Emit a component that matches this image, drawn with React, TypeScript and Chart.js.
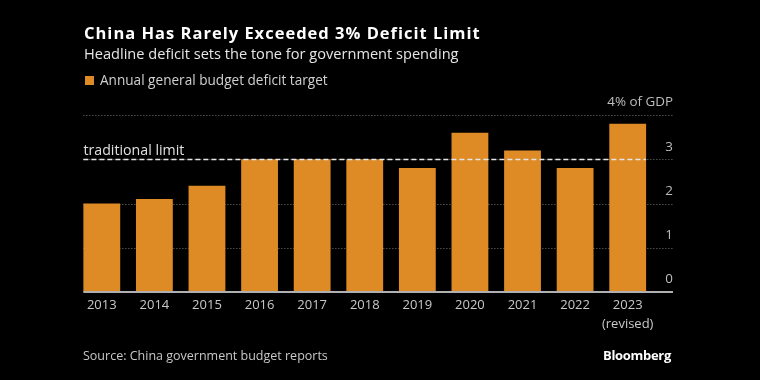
import React, { useEffect, useRef } from "react";
import { Chart, registerables } from "chart.js";

Chart.register(...registerables);

const categories = ["2013", "2014", "2015", "2016", "2017", "2018", "2019", "2020", "2021", "2022", "2023"];
const categoryNotes = ["", "", "", "", "", "", "", "", "", "", "(revised)"];
const deficitTarget = [2.0, 2.1, 2.4, 3.0, 3.0, 3.0, 2.8, 3.6, 3.2, 2.8, 3.8];
const yTickValues = [0, 1, 2, 3, 4];
const yTickLabels = ["0", "1", "2", "3", "4% of GDP"];
const limitValue = 3;
const limitLabel = "traditional limit";

const FONT = "'Open Sans', 'Noto Sans', sans-serif";
const BAR_COLOR = "#DE8B26";

const overlayPlugin = {
  id: "bbgOverlay",
  beforeDatasetsDraw(chart: any) {
    const { ctx, chartArea, scales } = chart;
    const y = scales.y;
    const meta = chart.getDatasetMeta(0);
    const first = meta.data[0];
    const left = first.x - first.width / 2;
    const right = chartArea.right + 19;
    ctx.save();
    ctx.strokeStyle = "#777777";
    ctx.lineWidth = 1;
    ctx.setLineDash([1, 2]);
    yTickValues.forEach((v) => {
      if (v === 0) return;
      const py = Math.round(y.getPixelForValue(v)) + 0.5;
      ctx.beginPath();
      ctx.moveTo(left, py);
      ctx.lineTo(right, py);
      ctx.stroke();
    });
    ctx.restore();
  },
  afterDatasetsDraw(chart: any) {
    const { ctx, chartArea, scales } = chart;
    const y = scales.y;
    const meta = chart.getDatasetMeta(0);
    const first = meta.data[0];
    const last = meta.data[meta.data.length - 1];
    const left = first.x - first.width / 2;
    const lastRight = last.x + last.width / 2;
    const right = chartArea.right + 19;
    ctx.save();
    const by = y.getPixelForValue(0);
    ctx.strokeStyle = "#b0b0b0";
    ctx.lineWidth = 2;
    ctx.setLineDash([]);
    ctx.beginPath();
    ctx.moveTo(left, by);
    ctx.lineTo(right, by);
    ctx.stroke();
    const ly = Math.round(y.getPixelForValue(limitValue)) + 0.5;
    ctx.strokeStyle = "#e6e6e6";
    ctx.lineWidth = 1.5;
    ctx.setLineDash([5, 3]);
    ctx.beginPath();
    ctx.moveTo(left, ly);
    ctx.lineTo(lastRight, ly);
    ctx.stroke();
    ctx.setLineDash([]);
    ctx.fillStyle = "#e0e0e0";
    ctx.font = `14.2px ${FONT}`;
    ctx.textAlign = "left";
    ctx.textBaseline = "alphabetic";
    ctx.fillText(limitLabel, left, ly - 5);
    ctx.fillStyle = "#bdbdbd";
    ctx.font = `13.4px ${FONT}`;
    ctx.textAlign = "right";
    ctx.textBaseline = "middle";
    yTickValues.forEach((v, i) => {
      const py = y.getPixelForValue(v) - 12.5;
      ctx.fillText(yTickLabels[i], right, py);
    });
    ctx.restore();
  },
};

export default function App() {
  const canvasRef = useRef<HTMLCanvasElement | null>(null);

  useEffect(() => {
    document.body.style.margin = "0";
    document.body.style.background = "#000";
    const canvas = canvasRef.current;
    if (!canvas) return;
    const labels = categories.map((c, i) => (categoryNotes[i] ? [c, categoryNotes[i]] : c));
    const chart = new Chart(canvas, {
      type: "bar",
      data: {
        labels,
        datasets: [
          {
            label: "Annual general budget deficit target",
            data: deficitTarget,
            backgroundColor: BAR_COLOR,
            borderWidth: 0,
            barPercentage: 0.7,
            categoryPercentage: 1.0,
          },
        ],
      },
      options: {
        animation: false,
        responsive: false,
        maintainAspectRatio: false,
        layout: { padding: { left: 75.5, right: 106, top: 115, bottom: 0 } },
        plugins: {
          legend: { display: false },
          tooltip: { enabled: false },
          title: { display: false },
        },
        scales: {
          x: {
            offset: true,
            grid: { display: false, drawTicks: false },
            border: { display: false },
            ticks: {
              color: "#c8c8c8",
              padding: 4,
              maxRotation: 0,
              autoSkip: false,
              font: { family: FONT, size: 13, lineHeight: 1.45 },
            },
            afterFit(scale: any) {
              scale.height = 88;
            },
          },
          y: {
            display: false,
            min: 0,
            max: 4,
          },
        },
      },
      plugins: [overlayPlugin],
    });
    return () => chart.destroy();
  }, []);

  const base: React.CSSProperties = {
    position: "absolute",
    fontFamily: FONT,
    whiteSpace: "nowrap",
    margin: 0,
  };

  return (
    <div style={{ position: "absolute", left: 0, top: 0, width: 760, height: 380, background: "#000", overflow: "hidden" }}>
      <canvas ref={canvasRef} width={760} height={380} style={{ position: "absolute", left: 0, top: 0, width: 760, height: 380 }} />
      <div style={{ ...base, left: 84, top: 25, fontSize: 16.5, lineHeight: "16px", fontWeight: 700, color: "#fff", letterSpacing: 1 }}>
        China Has Rarely Exceeded 3% Deficit Limit
      </div>
      <div style={{ ...base, left: 84, top: 45.5, fontSize: 14.6, lineHeight: "14px", color: "#e6e6e6" }}>
        Headline deficit sets the tone for government spending
      </div>
      <div style={{ ...base, left: 85, top: 76, width: 9, height: 9, background: BAR_COLOR }} />
      <div style={{ ...base, left: 100, top: 72.5, fontSize: 13.6, lineHeight: "13px", color: "#d0d0d0" }}>
        Annual general budget deficit target
      </div>
      <div style={{ ...base, left: 83, top: 349, fontSize: 12.5, lineHeight: "13px", color: "#c8c8c8" }}>
        Source: China government budget reports
      </div>
      <div style={{ ...base, right: 89, top: 348.5, fontSize: 13, lineHeight: "13px", fontWeight: 700, color: "#fff", letterSpacing: -0.3 }}>
        Bloomberg
      </div>
    </div>
  );
}
